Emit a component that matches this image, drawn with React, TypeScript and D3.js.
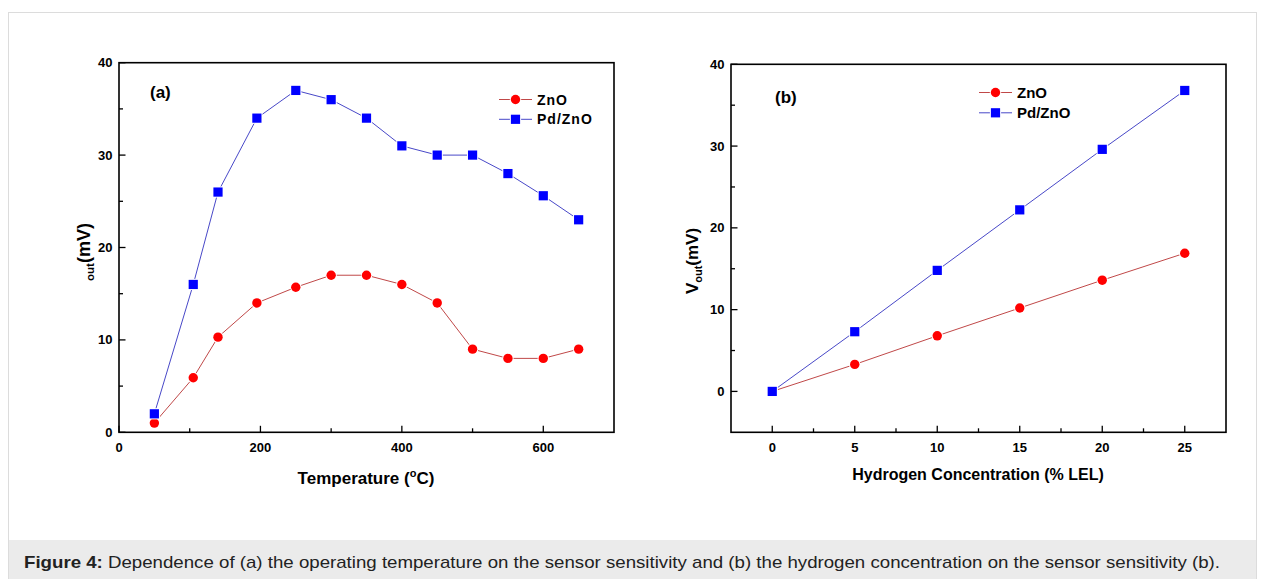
import React from "react";
import * as d3 from "d3";

// panel (a): output vs operating temperature
const tempC = [50, 105, 140, 195, 250, 300, 350, 400, 450, 500, 550, 600, 650];
const tempZnO = [1, 5.9, 10.3, 14, 15.7, 17, 17, 16, 14, 9, 8, 8, 9];
const tempPdZnO = [2, 16, 26, 34, 37, 36, 34, 31, 30, 30, 28, 25.6, 23];

// panel (b): output vs hydrogen concentration
const h2Conc = [0, 5, 10, 15, 20, 25];
const h2ZnO = [0, 3.3, 6.8, 10.2, 13.6, 16.9];
const h2PdZnO = [0, 7.3, 14.8, 22.2, 29.6, 36.8];

const seriesNames = ["ZnO", "Pd/ZnO"];
const caption = "Dependence of (a) the operating temperature on the sensor sensitivity and (b) the hydrogen concentration on the sensor sensitivity (b).";

const FONT = "'Liberation Sans', Arial, sans-serif";
const RED = "#ff0000";
const BLUE = "#0000ff";
const RED_LINE = "#c04848";
const BLUE_LINE = "#4848c8";

type PanelProps = {
  xs: number[];
  red: number[];
  blue: number[];
  xDomain: [number, number];
  yDomain: [number, number];
  xRange: [number, number];
  yRange: [number, number];
  xMajor: number[];
  xMinor: number[];
  yMajor: number[];
  yMinor: number[];
};

const Marker = ({ kind, x, y }: { kind: string; x: number; y: number }) =>
  kind === "circle" ? (
    <circle cx={x} cy={y} r={4.7} fill={RED} stroke="#fff" strokeWidth={2} style={{ paintOrder: "stroke" }} />
  ) : (
    <rect x={x - 4.6} y={y - 4.6} width={9.2} height={9.2} fill={BLUE} stroke="#fff" strokeWidth={2} style={{ paintOrder: "stroke" }} />
  );

function Panel(p: PanelProps & { children?: React.ReactNode }) {
  const x = d3.scaleLinear().domain(p.xDomain).range(p.xRange);
  const y = d3.scaleLinear().domain(p.yDomain).range(p.yRange);
  const [x0, x1] = p.xRange;
  const [y0, y1] = p.yRange;
  const line = d3.line<number>().x((d, i) => x(p.xs[i])).y(d => y(d));
  return (
    <g>
      <path d={line(p.red) ?? ""} fill="none" stroke={RED_LINE} strokeWidth={1} />
      <path d={line(p.blue) ?? ""} fill="none" stroke={BLUE_LINE} strokeWidth={1} />
      {p.red.map((v, i) => <Marker key={"r" + i} kind="circle" x={x(p.xs[i])} y={y(v)} />)}
      {p.blue.map((v, i) => <Marker key={"b" + i} kind="square" x={x(p.xs[i])} y={y(v)} />)}
      <rect x={x0} y={y1} width={x1 - x0} height={y0 - y1} fill="none" stroke="#000" strokeWidth={1.6} />
      {p.xMajor.map(t => (
        <g key={"xm" + t}>
          <line x1={x(t)} x2={x(t)} y1={y0} y2={y0 - 6.5} stroke="#000" strokeWidth={1.3} />
          <text x={x(t)} y={y0 + 19.5} textAnchor="middle" fontSize={13} fontWeight="bold">{t}</text>
        </g>
      ))}
      {p.xMinor.map(t => (
        <line key={"xn" + t} x1={x(t)} x2={x(t)} y1={y0} y2={y0 - 4} stroke="#000" strokeWidth={1.3} />
      ))}
      {p.yMajor.map(t => (
        <g key={"ym" + t}>
          <line x1={x0} x2={x0 + 6.5} y1={y(t)} y2={y(t)} stroke="#000" strokeWidth={1.3} />
          <text x={x0 - 6.5} y={y(t)} dy="0.35em" textAnchor="end" fontSize={13} fontWeight="bold">{t}</text>
        </g>
      ))}
      {p.yMinor.map(t => (
        <line key={"yn" + t} x1={x0} x2={x0 + 4} y1={y(t)} y2={y(t)} stroke="#000" strokeWidth={1.3} />
      ))}
      {p.children}
    </g>
  );
}

function Legend({ x, y, gap, fontSize, spacing }: { x: number; y: number; gap: number; fontSize: number; spacing: number }) {
  return (
    <g>
      {seriesNames.map((name, i) => (
        <g key={name} transform={`translate(${x},${y + i * gap})`}>
          <line x1={0} x2={33} y1={0} y2={0} stroke={i === 0 ? RED_LINE : BLUE_LINE} strokeWidth={1} />
          <Marker kind={i === 0 ? "circle" : "square"} x={16.5} y={0} />
          <text x={38} y={0} dy="0.36em" fontSize={fontSize} fontWeight="bold" letterSpacing={spacing}>{name}</text>
        </g>
      ))}
    </g>
  );
}

export default function App() {
  return (
    <div>
      <style>{`body{margin:0}`}</style>
      <svg width={1265} height={579} style={{ display: "block", fontFamily: FONT }}>
        <rect x={0} y={0} width={1265} height={579} fill="#fff" />
        <rect x={8.5} y={12.5} width={1248} height={570} fill="#fff" stroke="#dcdcdc" strokeWidth={1} />
        <rect x={9} y={540} width={1247} height={39} fill="#ebebeb" />

        <Panel xs={tempC} red={tempZnO} blue={tempPdZnO}
          xDomain={[0, 700]} yDomain={[0, 40]} xRange={[119, 614]} yRange={[432.3, 62.7]}
          xMajor={[0, 200, 400, 600]} xMinor={[100, 300, 500]}
          yMajor={[0, 10, 20, 30, 40]} yMinor={[5, 15, 25, 35]}>
          <text x={150} y={98} fontSize={17} fontWeight="bold">(a)</text>
          <Legend x={499} y={99.5} gap={19.8} fontSize={14} spacing={1} />
          <text x={366} y={484} textAnchor="middle" fontSize={17} fontWeight="bold">
            Temperature (<tspan fontSize={11} dy={-7}>o</tspan><tspan dy={7}>C)</tspan>
          </text>
          <text transform="translate(90,252) rotate(-90)" textAnchor="middle" fontSize={18} fontWeight="bold">
            <tspan fontSize={11.5} dy={4}>out</tspan><tspan dy={-4}>(mV)</tspan>
          </text>
        </Panel>

        <Panel xs={h2Conc} red={h2ZnO} blue={h2PdZnO}
          xDomain={[-2.5, 27.5]} yDomain={[-5, 40]} xRange={[731, 1226]} yRange={[432.3, 64.3]}
          xMajor={[0, 5, 10, 15, 20, 25]} xMinor={[2.5, 7.5, 12.5, 17.5, 22.5]}
          yMajor={[0, 10, 20, 30, 40]} yMinor={[5, 15, 25, 35]}>
          <text x={775} y={102.5} fontSize={17} fontWeight="bold">(b)</text>
          <Legend x={979} y={92.5} gap={20.3} fontSize={15} spacing={0} />
          <text x={978} y={480} textAnchor="middle" fontSize={16} fontWeight="bold">Hydrogen Concentration (% LEL)</text>
          <text transform="translate(698,261) rotate(-90)" textAnchor="middle" fontSize={17} fontWeight="bold">
            V<tspan fontSize={11} dy={4}>out</tspan><tspan dy={-4}>(mV)</tspan>
          </text>
        </Panel>

        <text x={24} y={568} fontSize={17} fill="#222" textLength={1196} lengthAdjust="spacingAndGlyphs">
          <tspan fontWeight="bold">Figure 4:</tspan> {caption}
        </text>
      </svg>
    </div>
  );
}
